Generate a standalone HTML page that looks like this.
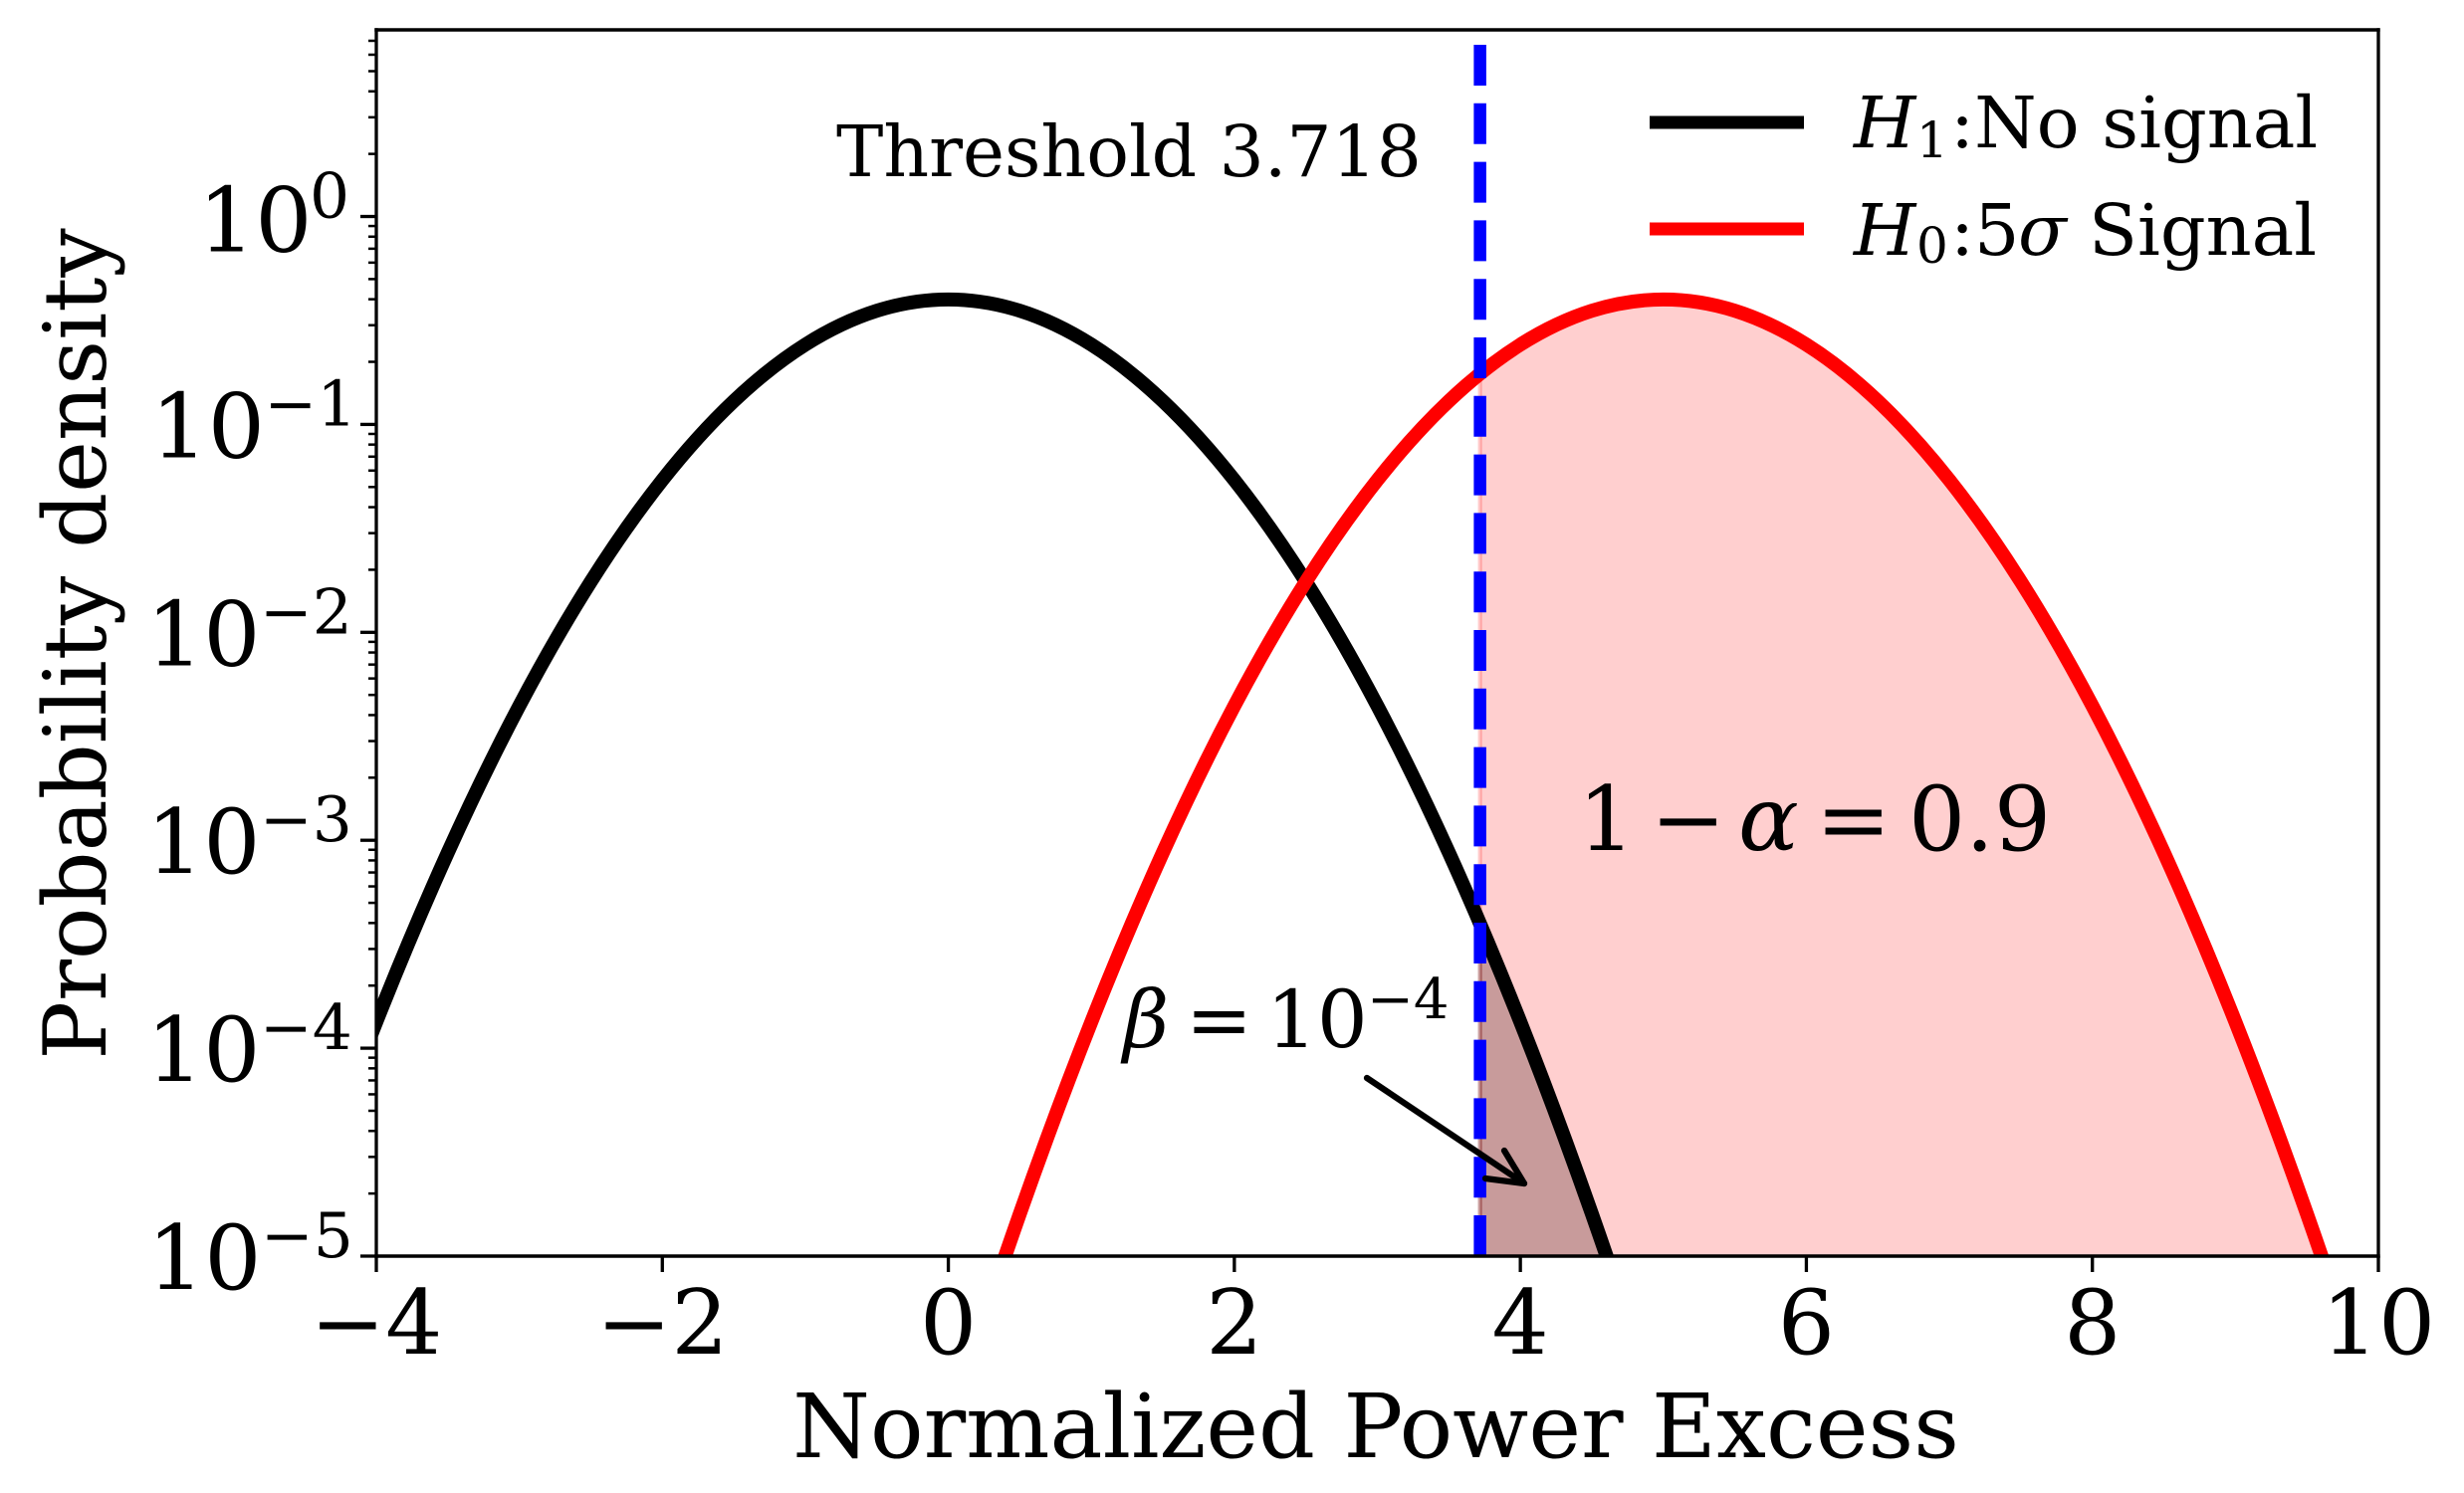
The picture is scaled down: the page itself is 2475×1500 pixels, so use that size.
<!DOCTYPE html>
<html lang="en">
<head>
<meta charset="utf-8">
<title>Probability density of normalized power excess</title>
<style>
html,body{margin:0;padding:0;background:#fff;width:2475px;height:1500px;overflow:hidden}
svg{display:block}
text{font-family:"DejaVu Serif","Liberation Serif",serif;fill:#000}
.it{font-style:italic}
</style>
</head>
<body>
<svg id="chart" xmlns="http://www.w3.org/2000/svg" width="2475" height="1500" viewBox="0 0 2475 1500">
  <rect x="0" y="0" width="2475" height="1500" fill="#fff"/>
  <defs>
    <clipPath id="axes-clip"><rect id="axes-clip-rect" x="0" y="0" width="0" height="0"/></clipPath>
    <clipPath id="fill-clip"><rect id="fill-clip-rect" x="0" y="0" width="0" height="0"/></clipPath>
  </defs>
  <g id="fills" clip-path="url(#axes-clip)"></g>
  <g id="lines" clip-path="url(#axes-clip)"></g>
  <g id="threshold-layer" clip-path="url(#axes-clip)"></g>
  <g fill="none" stroke="#000" stroke-width="6.25" stroke-linecap="round" stroke-linejoin="round">
    <path d="M1373 1083L1531 1189"/>
    <path d="M1511 1156L1531 1189L1492 1184"/>
  </g>
  <g id="axis-ticks"></g>
  <g id="tick-labels"></g>
  <g id="spines"></g>

  <text x="1382" y="1464" font-size="89" text-anchor="middle">Normalized Power Excess</text>
  <text transform="translate(106 647) rotate(-90)" font-size="87.5" text-anchor="middle">Probability density</text>
  <text x="840" y="177" font-size="71">Threshold 3.718</text>

  <g font-size="90">
    <text x="1585" y="854">1</text>
    <text x="1658" y="854">−</text>
    <text class="it" x="1746" y="854">α</text>
    <text x="1824" y="854">=</text>
    <text x="1917" y="854">0.9</text>
  </g>
  <g font-size="80">
    <text class="it" x="1128" y="1052">β</text>
    <text x="1191" y="1052">=</text>
    <text x="1272" y="1052">10</text>
    <text x="1373" y="1023" font-size="56">−4</text>
  </g>

  <g>
    <g font-size="71.5">
      <line x1="1657" y1="123" x2="1812" y2="123" stroke="#000" stroke-width="13"/>
      <text class="it" x="1862" y="148">H</text>
      <text x="1925" y="158" font-size="50">1</text>
      <text x="1959" y="148">:No signal</text>
    </g>
    <g font-size="71.5">
      <line x1="1657" y1="230" x2="1812" y2="230" stroke="#f00" stroke-width="13"/>
      <text class="it" x="1862" y="256">H</text>
      <text x="1925" y="264" font-size="50">0</text>
      <text x="1959" y="256">:</text>
      <text x="1983" y="256">5</text>
      <text class="it" x="2027" y="256">σ</text>
      <text x="2098" y="256">Signal</text>
    </g>
  </g>
</svg>

<script>
const h1X = [-4.5,-4,-3.5,-3,-2.5,-2,-1.5,-1,-0.5,0,0.5,1,1.5,2,2.5,3,3.5,4,4.5,5];
const h1Density = [1.598e-5,1.338e-4,8.727e-4,4.432e-3,1.753e-2,5.399e-2,1.295e-1,2.420e-1,3.521e-1,3.989e-1,3.521e-1,2.420e-1,1.295e-1,5.399e-2,1.753e-2,4.432e-3,8.727e-4,1.338e-4,1.598e-5,1.487e-6];
const h0X = [0,0.5,1,1.5,2,2.5,3,3.5,4,4.5,5,5.5,6,6.5,7,7.5,8,8.5,9,9.5,10];
const h0Density = [1.487e-6,1.598e-5,1.338e-4,8.727e-4,4.432e-3,1.753e-2,5.399e-2,1.295e-1,2.420e-1,3.521e-1,3.989e-1,3.521e-1,2.420e-1,1.295e-1,5.399e-2,1.753e-2,4.432e-3,8.727e-4,1.338e-4,1.598e-5,1.487e-6];
const thresholdValue = 3.718;
const thresholdLineTop = 6.7;
const thresholdH1Density = 3.98e-4;
const thresholdH0Density = 1.754e-1;
const xTicks = [-4,-2,0,2,4,6,8,10];
const xTickLabels = ["−4","−2","0","2","4","6","8","10"];
const yDecades = [0,-1,-2,-3,-4,-5];
const yExponentLabels = ["0","−1","−2","−3","−4","−5"];
const yMinorMultipliers = [2,3,4,5,6,7,8,9];
const xDomain = [-4,10];
const yDomain = [1e-5,7.9];

const plotLeft = 378, plotRight = 2389, plotTop = 30, plotBottom = 1262;
const NS = "http://www.w3.org/2000/svg";
function xScale(v){ return plotLeft + (v - xDomain[0]) / (xDomain[1] - xDomain[0]) * (plotRight - plotLeft); }
function yScale(v){
  const a = Math.log10(yDomain[0]), b = Math.log10(yDomain[1]);
  return plotBottom - (Math.log10(v) - a) / (b - a) * (plotBottom - plotTop);
}
function make(tag, attrs, parent, txt){
  const n = document.createElementNS(NS, tag);
  for (const k in attrs) n.setAttribute(k, attrs[k]);
  if (txt !== undefined) n.textContent = txt;
  parent.appendChild(n);
  return n;
}
function curvePath(xs, ys){
  const p = xs.map((x,i)=>[xScale(x), yScale(ys[i])]);
  const n = p.length;
  const first = [3*p[0][0]-3*p[1][0]+p[2][0], 3*p[0][1]-3*p[1][1]+p[2][1]];
  const last = [3*p[n-1][0]-3*p[n-2][0]+p[n-3][0], 3*p[n-1][1]-3*p[n-2][1]+p[n-3][1]];
  let d = "M" + p[0][0].toFixed(2) + " " + p[0][1].toFixed(2);
  for (let i = 0; i < n - 1; i++){
    const p0 = i > 0 ? p[i-1] : first, p1 = p[i], p2 = p[i+1], p3 = i + 2 < n ? p[i+2] : last;
    const c1x = p1[0] + (p2[0]-p0[0])/6, c1y = p1[1] + (p2[1]-p0[1])/6;
    const c2x = p2[0] - (p3[0]-p1[0])/6, c2y = p2[1] - (p3[1]-p1[1])/6;
    d += "C" + [c1x,c1y,c2x,c2y,p2[0],p2[1]].map(v=>v.toFixed(2)).join(" ");
  }
  return d;
}
function areaPath(xs, ys){
  return curvePath(xs, ys) + "L" + xScale(xs[xs.length-1]).toFixed(2) + " 1480L" + xScale(xs[0]).toFixed(2) + " 1480Z";
}

const axesClip = document.getElementById("axes-clip-rect");
axesClip.setAttribute("x", plotLeft);
axesClip.setAttribute("y", plotTop);
axesClip.setAttribute("width", plotRight - plotLeft);
axesClip.setAttribute("height", plotBottom - plotTop);
const fillClip = document.getElementById("fill-clip-rect");
fillClip.setAttribute("x", xScale(thresholdValue));
fillClip.setAttribute("y", plotTop);
fillClip.setAttribute("width", plotRight - xScale(thresholdValue));
fillClip.setAttribute("height", plotBottom - plotTop);

/* fills */
const fills = document.getElementById("fills");
const powerFill = make("path", {d: areaPath(h0X, h0Density), fill: "#ffcfcf", "clip-path": "url(#fill-clip)"}, fills);


const betaFill = make("path", {d: areaPath(h1X, h1Density), fill: "#c89b9b", "clip-path": "url(#fill-clip)"}, fills);


const edgeX = xScale(thresholdValue);
const powerEdge = make("line", {x1: edgeX, x2: edgeX, y1: yScale(thresholdH0Density), y2: plotBottom, stroke: "#f00", "stroke-opacity": .2, "stroke-width": 4.2}, fills);


const betaEdge = make("line", {x1: edgeX, x2: edgeX, y1: yScale(thresholdH1Density), y2: plotBottom, stroke: "#000", "stroke-opacity": .2, "stroke-width": 4.2}, fills);



/* curves */
const linesG = document.getElementById("lines");
const h1Curve = make("path", {d: curvePath(h1X, h1Density), fill: "none", stroke: "#000", "stroke-width": 14}, linesG);


const h0Curve = make("path", {d: curvePath(h0X, h0Density), fill: "none", stroke: "#f00", "stroke-width": 14}, linesG);



/* threshold */
const thresholdLine = make("line", {x1: edgeX, x2: edgeX, y1: plotBottom, y2: yScale(thresholdLineTop), stroke: "#00f", "stroke-width": 12.5, "stroke-dasharray": "41 17.8"}, document.getElementById("threshold-layer"));



/* ticks */
const ticksG = document.getElementById("axis-ticks");
const labelsG = document.getElementById("tick-labels");
xTicks.forEach((t,i)=>{
  const x = xScale(t);
  const tick = make("line", {x1: x, x2: x, y1: plotBottom, y2: plotBottom + 16, stroke: "#000", "stroke-width": 3.3}, ticksG);
  
  
  const label = make("text", {x: x, y: 1360, "font-size": 90, "text-anchor": "middle"}, labelsG, xTickLabels[i]);
  
  
});
yDecades.forEach((e,i)=>{
  const y = yScale(Math.pow(10, e));
  const tick = make("line", {x1: plotLeft - 16, x2: plotLeft, y1: y, y2: y, stroke: "#000", "stroke-width": 3.3}, ticksG);
  
  
  const isZero = e === 0;
  const shift = e === -1 ? 4.5 : (e === -5 ? 1 : 0);
  const base = make("text", {x: (isZero ? 199 : 147) + shift, y: y + (isZero ? 35 : 33), "font-size": 90}, labelsG, "10");
  
  
  const sup = make("text", {x: (isZero ? 311 : 261) + shift, y: y + 1, "font-size": 63}, labelsG, yExponentLabels[i]);
  
  
});
yDecades.forEach(e=>{
  yMinorMultipliers.forEach(m=>{
    const v = m * Math.pow(10, e);
    if (v > yDomain[1] || v < yDomain[0]) return;
    const y = yScale(v);
    const minor = make("line", {x1: plotLeft - 8, x2: plotLeft, y1: y, y2: y, stroke: "#000", "stroke-width": 2.5}, ticksG);
    
    
  });
});

/* frame */
const frame = document.getElementById("spines");
const leftSpine = make("line", {x1: plotLeft, x2: plotLeft, y1: plotTop - 1.7, y2: plotBottom + 1.7, stroke: "#000", "stroke-width": 3.3}, frame);


const rightSpine = make("line", {x1: plotRight, x2: plotRight, y1: plotTop - 1.7, y2: plotBottom + 1.7, stroke: "#000", "stroke-width": 3.3}, frame);


const topSpine = make("line", {x1: plotLeft - 1.7, x2: plotRight + 1.7, y1: plotTop, y2: plotTop, stroke: "#000", "stroke-width": 3.6}, frame);


const bottomSpine = make("line", {x1: plotLeft - 1.7, x2: plotRight + 1.7, y1: plotBottom, y2: plotBottom, stroke: "#000", "stroke-width": 3.6}, frame);


</script>
</body>
</html>
